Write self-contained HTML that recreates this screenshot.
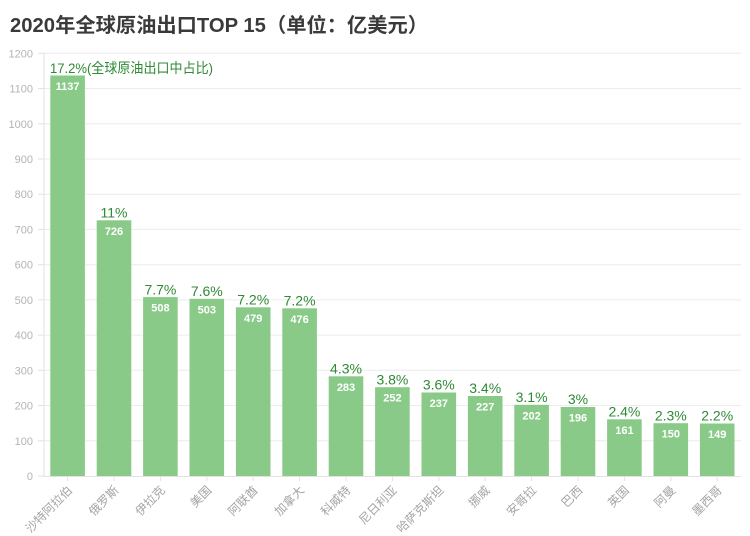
<!DOCTYPE html>
<html><head><meta charset="utf-8"><style>
html,body{margin:0;padding:0;background:#fff;}
svg{display:block;}
text{font-family:"Liberation Sans","Noto Sans CJK SC",sans-serif;}
</style></head><body>
<svg width="750" height="536" viewBox="0 0 750 536" xmlns="http://www.w3.org/2000/svg">
<rect width="750" height="536" fill="#fff"/>
<text x="10" y="32" font-size="20" font-weight="bold" fill="#3a3a3a" textLength="418" lengthAdjust="spacingAndGlyphs">2020年全球原油出口TOP 15（单位：亿美元）</text>
<g stroke="#ececec" stroke-width="1">
<line x1="44" x2="741" y1="440.8" y2="440.8"/>
<line x1="44" x2="741" y1="405.5" y2="405.5"/>
<line x1="44" x2="741" y1="370.3" y2="370.3"/>
<line x1="44" x2="741" y1="335.1" y2="335.1"/>
<line x1="44" x2="741" y1="299.9" y2="299.9"/>
<line x1="44" x2="741" y1="264.7" y2="264.7"/>
<line x1="44" x2="741" y1="229.4" y2="229.4"/>
<line x1="44" x2="741" y1="194.2" y2="194.2"/>
<line x1="44" x2="741" y1="159.0" y2="159.0"/>
<line x1="44" x2="741" y1="123.8" y2="123.8"/>
<line x1="44" x2="741" y1="88.5" y2="88.5"/>
<line x1="44" x2="741" y1="53.3" y2="53.3"/>
</g>
<g stroke="#e2e2e2" stroke-width="1">
<line x1="44" x2="44" y1="53" y2="476"/>
<line x1="38" x2="44" y1="476" y2="476"/>
<line x1="38" x2="44" y1="440.8" y2="440.8"/>
<line x1="38" x2="44" y1="405.5" y2="405.5"/>
<line x1="38" x2="44" y1="370.3" y2="370.3"/>
<line x1="38" x2="44" y1="335.1" y2="335.1"/>
<line x1="38" x2="44" y1="299.9" y2="299.9"/>
<line x1="38" x2="44" y1="264.7" y2="264.7"/>
<line x1="38" x2="44" y1="229.4" y2="229.4"/>
<line x1="38" x2="44" y1="194.2" y2="194.2"/>
<line x1="38" x2="44" y1="159.0" y2="159.0"/>
<line x1="38" x2="44" y1="123.8" y2="123.8"/>
<line x1="38" x2="44" y1="88.5" y2="88.5"/>
<line x1="38" x2="44" y1="53.3" y2="53.3"/>
<line x1="44" x2="741" y1="476.5" y2="476.5"/>
</g>
<g font-size="11" fill="#b4b4b4" text-anchor="end">
<text x="33" y="480">0</text>
<text x="33" y="444.8">100</text>
<text x="33" y="409.5">200</text>
<text x="33" y="374.3">300</text>
<text x="33" y="339.1">400</text>
<text x="33" y="303.9">500</text>
<text x="33" y="268.7">600</text>
<text x="33" y="233.4">700</text>
<text x="33" y="198.2">800</text>
<text x="33" y="163.0">900</text>
<text x="33" y="127.8">1000</text>
<text x="33" y="92.5">1100</text>
<text x="33" y="57.3">1200</text>
</g>
<g fill="#89ca89">
<rect x="50.3" y="75.5" width="34.6" height="400.5"/>
<rect x="96.7" y="220.3" width="34.6" height="255.7"/>
<rect x="143.1" y="297.1" width="34.6" height="178.9"/>
<rect x="189.5" y="298.8" width="34.6" height="177.2"/>
<rect x="235.9" y="307.3" width="34.6" height="168.7"/>
<rect x="282.3" y="308.3" width="34.6" height="167.7"/>
<rect x="328.7" y="376.3" width="34.6" height="99.7"/>
<rect x="375.1" y="387.2" width="34.6" height="88.8"/>
<rect x="421.5" y="392.5" width="34.6" height="83.5"/>
<rect x="467.9" y="396.0" width="34.6" height="80.0"/>
<rect x="514.3" y="404.8" width="34.6" height="71.2"/>
<rect x="560.7" y="407.0" width="34.6" height="69.0"/>
<rect x="607.1" y="419.3" width="34.6" height="56.7"/>
<rect x="653.5" y="423.2" width="34.6" height="52.8"/>
<rect x="699.9" y="423.5" width="34.6" height="52.5"/>
</g>
<g font-size="11" font-weight="bold" fill="#ffffff" text-anchor="middle">
<text x="67.6" y="90">1137</text>
<text x="114.0" y="234.8">726</text>
<text x="160.4" y="311.6">508</text>
<text x="206.8" y="313.3">503</text>
<text x="253.2" y="321.8">479</text>
<text x="299.6" y="322.8">476</text>
<text x="346.0" y="390.8">283</text>
<text x="392.4" y="401.7">252</text>
<text x="438.8" y="407.0">237</text>
<text x="485.2" y="410.5">227</text>
<text x="531.6" y="419.3">202</text>
<text x="578.0" y="421.5">196</text>
<text x="624.4" y="433.8">161</text>
<text x="670.8" y="437.7">150</text>
<text x="717.2" y="438.0">149</text>
</g>
<g font-size="14" fill="#2f8a35" text-anchor="middle">
<text x="50" y="73" text-anchor="start" textLength="163" lengthAdjust="spacingAndGlyphs">17.2%(全球原油出口中占比)</text>
<text x="114.0" y="217.5">11%</text>
<text x="160.4" y="294.3">7.7%</text>
<text x="206.8" y="296.0">7.6%</text>
<text x="253.2" y="304.5">7.2%</text>
<text x="299.6" y="305.5">7.2%</text>
<text x="346.0" y="373.5">4.3%</text>
<text x="392.4" y="384.4">3.8%</text>
<text x="438.8" y="389.7">3.6%</text>
<text x="485.2" y="393.2">3.4%</text>
<text x="531.6" y="402.0">3.1%</text>
<text x="578.0" y="404.2">3%</text>
<text x="624.4" y="416.5">2.4%</text>
<text x="670.8" y="420.4">2.3%</text>
<text x="717.2" y="420.7">2.2%</text>
</g>
<g stroke="#e2e2e2" stroke-width="1">
<line x1="67.6" x2="67.6" y1="476" y2="481"/>
<line x1="114.0" x2="114.0" y1="476" y2="481"/>
<line x1="160.4" x2="160.4" y1="476" y2="481"/>
<line x1="206.8" x2="206.8" y1="476" y2="481"/>
<line x1="253.2" x2="253.2" y1="476" y2="481"/>
<line x1="299.6" x2="299.6" y1="476" y2="481"/>
<line x1="346.0" x2="346.0" y1="476" y2="481"/>
<line x1="392.4" x2="392.4" y1="476" y2="481"/>
<line x1="438.8" x2="438.8" y1="476" y2="481"/>
<line x1="485.2" x2="485.2" y1="476" y2="481"/>
<line x1="531.6" x2="531.6" y1="476" y2="481"/>
<line x1="578.0" x2="578.0" y1="476" y2="481"/>
<line x1="624.4" x2="624.4" y1="476" y2="481"/>
<line x1="670.8" x2="670.8" y1="476" y2="481"/>
<line x1="717.2" x2="717.2" y1="476" y2="481"/>
</g>
<g font-size="12" fill="#a4a4a4" text-anchor="end">
<text x="73" y="491" transform="rotate(-45 73 491)">沙特阿拉伯</text>
<text x="119.4" y="491" transform="rotate(-45 119.4 491)">俄罗斯</text>
<text x="165.8" y="491" transform="rotate(-45 165.8 491)">伊拉克</text>
<text x="212.2" y="491" transform="rotate(-45 212.2 491)">美国</text>
<text x="258.6" y="491" transform="rotate(-45 258.6 491)">阿联酋</text>
<text x="305.0" y="491" transform="rotate(-45 305.0 491)">加拿大</text>
<text x="351.4" y="491" transform="rotate(-45 351.4 491)">科威特</text>
<text x="397.8" y="491" transform="rotate(-45 397.8 491)">尼日利亚</text>
<text x="444.2" y="491" transform="rotate(-45 444.2 491)">哈萨克斯坦</text>
<text x="490.6" y="491" transform="rotate(-45 490.6 491)">挪威</text>
<text x="537.0" y="491" transform="rotate(-45 537.0 491)">安哥拉</text>
<text x="583.4" y="491" transform="rotate(-45 583.4 491)">巴西</text>
<text x="629.8" y="491" transform="rotate(-45 629.8 491)">英国</text>
<text x="676.2" y="491" transform="rotate(-45 676.2 491)">阿曼</text>
<text x="722.6" y="491" transform="rotate(-45 722.6 491)">墨西哥</text>
</g>
</svg>
</body></html>
